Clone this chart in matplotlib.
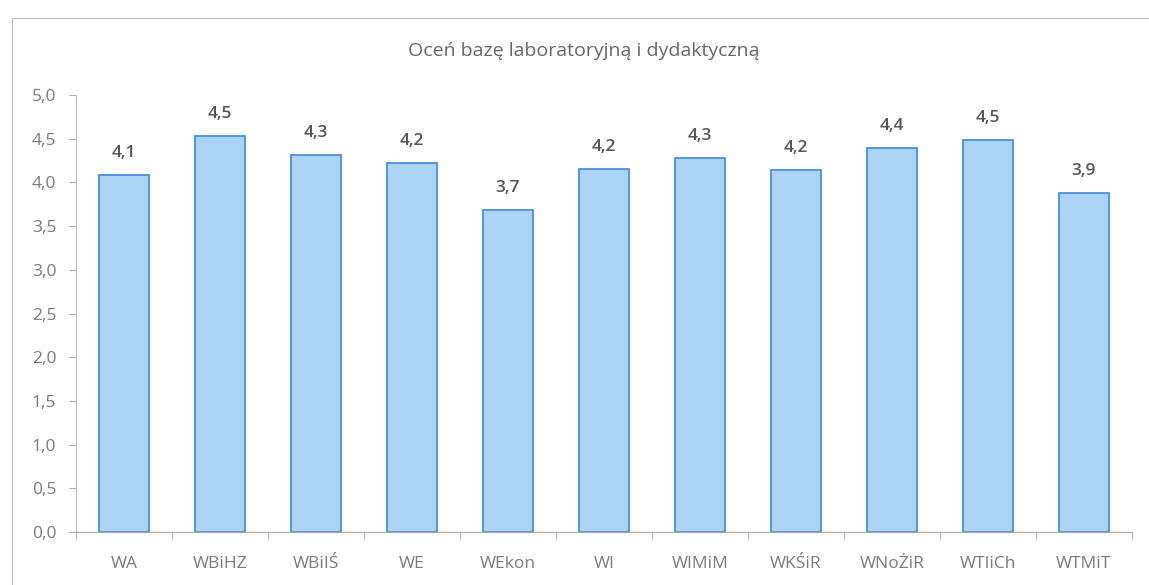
import matplotlib
matplotlib.use("Agg")
import matplotlib.pyplot as plt
from matplotlib.patches import Rectangle
import numpy as np

categories = ["WA", "WBiHZ", "WBiIŚ", "WE", "WEkon", "WI", "WIMiM", "WKŚiR", "WNoŻiR", "WTIiCh", "WTMiT"]
values = [4.08, 4.53, 4.31, 4.22, 3.68, 4.15, 4.28, 4.14, 4.39, 4.49, 3.88]
value_labels = ["4,1", "4,5", "4,3", "4,2", "3,7", "4,2", "4,3", "4,2", "4,4", "4,5", "3,9"]
yticks = [0.0, 0.5, 1.0, 1.5, 2.0, 2.5, 3.0, 3.5, 4.0, 4.5, 5.0]
title = "Oceń bazę laboratoryjną i dydaktyczną"

plt.rcParams['font.family'] = ['Open Sans', 'DejaVu Sans']

fig = plt.figure(figsize=(11.49, 5.85), dpi=100)
ax = fig.add_axes([0.066, 0.0906, 0.919, 0.747])

x = np.arange(len(categories))
ax.bar(x, values, width=0.52, color="#acd4f4", edgecolor="#4a90d9", linewidth=1.3, zorder=2)

for xi, v, lab in zip(x, values, value_labels):
    ax.text(xi, v + 0.16, lab, ha="center", va="bottom", fontsize=12.5,
            color="#555555", fontweight="semibold")

ax.set_xlim(-0.5, len(categories) - 0.5)
ax.set_ylim(0, 5.0)
ax.set_yticks(yticks)
ax.set_yticklabels([f"{t:.1f}".replace(".", ",") for t in yticks])
ax.set_xticks(x)
ax.set_xticklabels(categories)
ax.set_xticks(np.arange(-0.5, len(categories), 1.0), minor=True)
ax.tick_params(axis="x", which="major", length=0, pad=17, labelsize=12.5, labelcolor="#7a7a7a")
ax.tick_params(axis="x", which="minor", length=5, color="#aaaaaa", direction="out")
ax.tick_params(axis="y", length=5, color="#aaaaaa", labelsize=12.5, labelcolor="#7a7a7a", pad=9)

for s in ["top", "right"]:
    ax.spines[s].set_visible(False)
ax.spines["left"].set_color("#bbbbbb")
ax.spines["bottom"].set_color("#aaaaaa")
ax.spines["left"].set_linewidth(0.8)
ax.spines["bottom"].set_linewidth(0.9)

fig.text(0.508, 0.912, title, ha="center", va="center", fontsize=14, color="#666666")

frame = Rectangle((0.0105, -0.05), 1.2, 1.019, transform=fig.transFigure, fill=False,
                  edgecolor="#bbbbbb", linewidth=0.8)
fig.patches.append(frame)

fig.savefig("out.png", dpi=100)
